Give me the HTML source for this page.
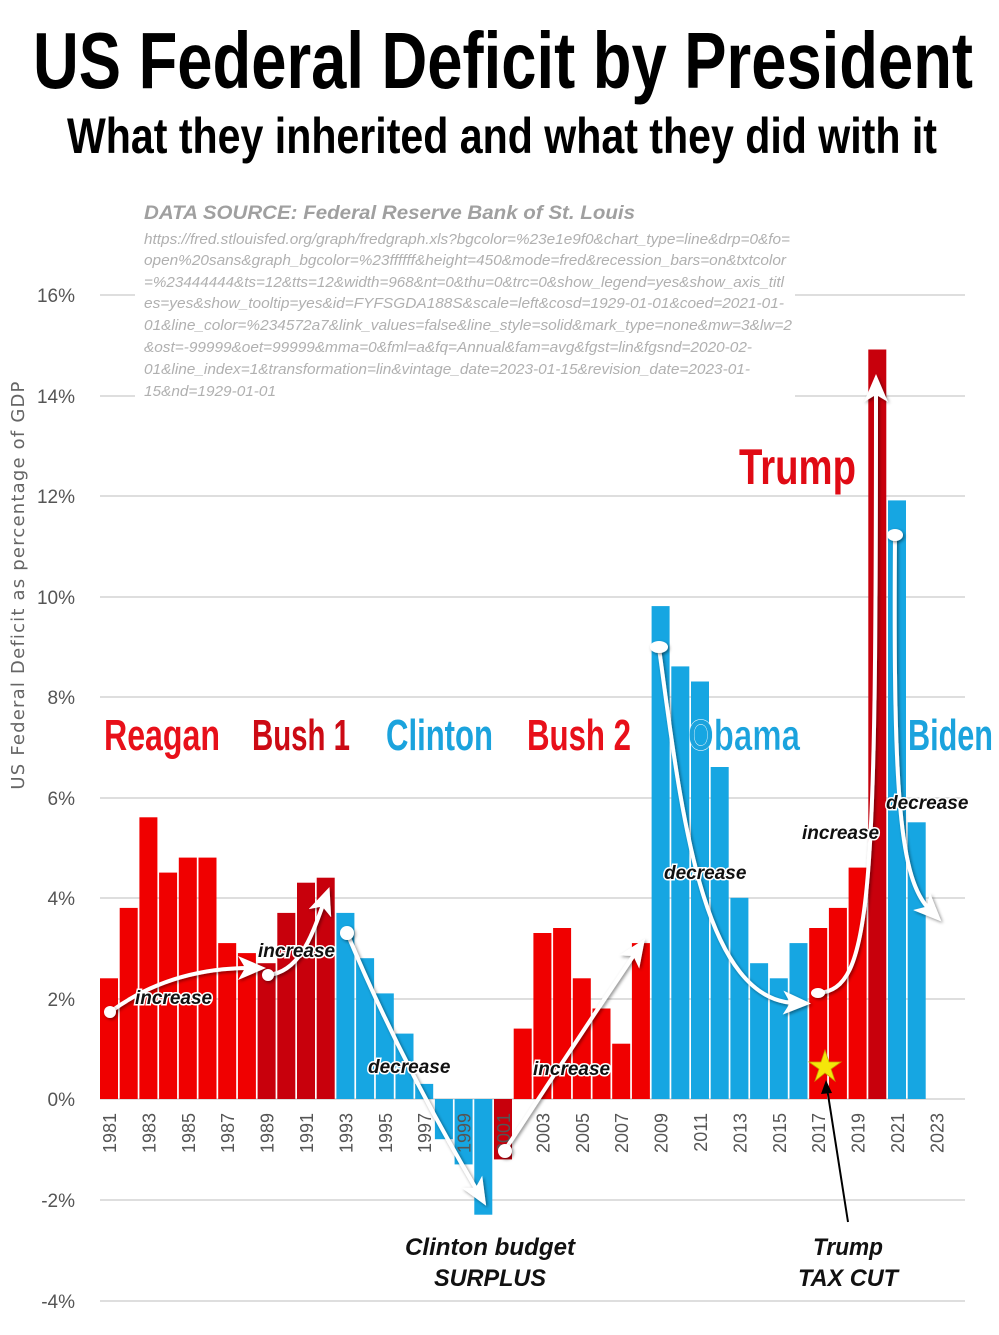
<!DOCTYPE html>
<html><head><meta charset="utf-8"><style>
html,body{margin:0;padding:0;background:#fff;}
svg{display:block;}
</style></head><body>
<svg width="999" height="1335" viewBox="0 0 999 1335" xmlns="http://www.w3.org/2000/svg">
<defs>
<filter id="sh" x="-20%" y="-20%" width="140%" height="140%"><feDropShadow dx="1.5" dy="1.5" stdDeviation="1.5" flood-color="#000" flood-opacity="0.45"/></filter>
<marker id="ah" markerWidth="7" markerHeight="6" refX="3" refY="3" orient="auto" markerUnits="strokeWidth"><path d="M0,0 L7,3 L0,6 L1.8,3 z" fill="#fff"/></marker>
</defs>
<rect width="999" height="1335" fill="#fff"/>
<g font-family="'Liberation Sans Narrow','Liberation Sans',sans-serif" font-weight="bold" fill="#000">
<text x="33" y="88" font-size="80" textLength="940" lengthAdjust="spacingAndGlyphs">US Federal Deficit by President</text>
<text x="67" y="153" font-size="50" textLength="870" lengthAdjust="spacingAndGlyphs">What they inherited and what they did with it</text>
</g>
<!-- gridlines -->
<g stroke="#d4d4d4" stroke-width="1.5">
<line x1="100" x2="965" y1="295" y2="295"/><line x1="100" x2="965" y1="396" y2="396"/>
<line x1="100" x2="965" y1="496" y2="496"/><line x1="100" x2="965" y1="597" y2="597"/>
<line x1="100" x2="965" y1="697" y2="697"/><line x1="100" x2="965" y1="798" y2="798"/>
<line x1="100" x2="965" y1="898" y2="898"/><line x1="100" x2="965" y1="999" y2="999"/>
<line x1="100" x2="965" y1="1099" y2="1099"/><line x1="100" x2="965" y1="1200" y2="1200"/>
<line x1="100" x2="965" y1="1301" y2="1301"/>
</g>
<rect x="135" y="198" width="660" height="212" fill="#fff"/>
<g font-family="'Liberation Sans',sans-serif" fill="#aaa" font-style="italic">
<text x="144" y="219" font-size="19" font-weight="bold" fill="#a0a0a0" textLength="491" lengthAdjust="spacingAndGlyphs">DATA SOURCE: Federal Reserve Bank of St. Louis</text>
<g font-size="15" fill="#b0b0b0">
<text x="144" y="244" textLength="646" lengthAdjust="spacingAndGlyphs">https://fred.stlouisfed.org/graph/fredgraph.xls?bgcolor=%23e1e9f0&amp;chart_type=line&amp;drp=0&amp;fo=</text>
<text x="144" y="265" textLength="642" lengthAdjust="spacingAndGlyphs">open%20sans&amp;graph_bgcolor=%23ffffff&amp;height=450&amp;mode=fred&amp;recession_bars=on&amp;txtcolor</text>
<text x="144" y="287" textLength="640" lengthAdjust="spacingAndGlyphs">=%23444444&amp;ts=12&amp;tts=12&amp;width=968&amp;nt=0&amp;thu=0&amp;trc=0&amp;show_legend=yes&amp;show_axis_titl</text>
<text x="144" y="308" textLength="640" lengthAdjust="spacingAndGlyphs">es=yes&amp;show_tooltip=yes&amp;id=FYFSGDA188S&amp;scale=left&amp;cosd=1929-01-01&amp;coed=2021-01-</text>
<text x="144" y="330" textLength="648" lengthAdjust="spacingAndGlyphs">01&amp;line_color=%234572a7&amp;link_values=false&amp;line_style=solid&amp;mark_type=none&amp;mw=3&amp;lw=2</text>
<text x="144" y="352" textLength="608" lengthAdjust="spacingAndGlyphs">&amp;ost=-99999&amp;oet=99999&amp;mma=0&amp;fml=a&amp;fq=Annual&amp;fam=avg&amp;fgst=lin&amp;fgsnd=2020-02-</text>
<text x="144" y="374" textLength="606" lengthAdjust="spacingAndGlyphs">01&amp;line_index=1&amp;transformation=lin&amp;vintage_date=2023-01-15&amp;revision_date=2023-01-</text>
<text x="144" y="396" textLength="132" lengthAdjust="spacingAndGlyphs">15&amp;nd=1929-01-01</text>
</g></g>
<!-- y labels -->
<g font-family="'Liberation Sans',sans-serif" font-size="19" fill="#555" text-anchor="end">
<text x="75" y="302">16%</text><text x="75" y="403">14%</text><text x="75" y="503">12%</text>
<text x="75" y="604">10%</text><text x="75" y="704">8%</text><text x="75" y="805">6%</text>
<text x="75" y="905">4%</text><text x="75" y="1006">2%</text><text x="75" y="1106">0%</text>
<text x="75" y="1207">-2%</text><text x="75" y="1308">-4%</text>
</g>
<text transform="translate(24,585) rotate(-90)" text-anchor="middle" font-family="'DejaVu Sans',sans-serif" font-size="18" fill="#666" letter-spacing="1.2">US Federal Deficit as percentage of GDP</text>
<!-- bars -->
<g>
<g fill="#f00000">
<rect x="100" y="978.3" width="18" height="120.7"/>
<rect x="119.7" y="907.9" width="18" height="191.1"/>
<rect x="139.4" y="817.3" width="18" height="281.7"/>
<rect x="159.1" y="872.6" width="18" height="226.4"/>
<rect x="178.8" y="857.6" width="18" height="241.4"/>
<rect x="198.5" y="857.6" width="18" height="241.4"/>
<rect x="218.2" y="943.1" width="18" height="155.9"/>
<rect x="237.9" y="953.1" width="18" height="145.9"/>
<rect x="513.7" y="1028.6" width="18" height="70.4"/>
<rect x="533.4" y="933" width="18" height="166"/>
<rect x="553.1" y="928" width="18" height="171"/>
<rect x="572.8" y="978.3" width="18" height="120.7"/>
<rect x="592.5" y="1008.5" width="18" height="90.5"/>
<rect x="612.2" y="1043.7" width="18" height="55.3"/>
<rect x="631.9" y="943.1" width="18" height="155.9"/>
<rect x="809.2" y="928" width="18" height="171"/>
<rect x="828.9" y="907.9" width="18" height="191.1"/>
<rect x="848.6" y="867.6" width="18" height="231.4"/>
</g>
<g fill="#c8000c">
<rect x="257.6" y="963.2" width="18" height="135.8"/>
<rect x="277.3" y="912.9" width="18" height="186.1"/>
<rect x="297" y="882.7" width="18" height="216.3"/>
<rect x="316.7" y="877.7" width="18" height="221.3"/>
<rect x="494" y="1099" width="18" height="60.4"/>
<rect x="868.3" y="349.5" width="18" height="749.5"/>
</g>
<g fill="#16a6e2">
<rect x="336.4" y="912.9" width="18" height="186.1"/>
<rect x="356.1" y="958.2" width="18" height="140.8"/>
<rect x="375.8" y="993.4" width="18" height="105.6"/>
<rect x="395.5" y="1033.6" width="18" height="65.4"/>
<rect x="415.2" y="1083.9" width="18" height="15.1"/>
<rect x="434.9" y="1099" width="18" height="40.2"/>
<rect x="454.6" y="1099" width="18" height="65.4"/>
<rect x="474.3" y="1099" width="18" height="115.7"/>
<rect x="651.6" y="606.1" width="18" height="492.9"/>
<rect x="671.3" y="666.4" width="18" height="432.6"/>
<rect x="691" y="681.5" width="18" height="417.5"/>
<rect x="710.7" y="767" width="18" height="332"/>
<rect x="730.4" y="897.8" width="18" height="201.2"/>
<rect x="750.1" y="963.2" width="18" height="135.8"/>
<rect x="769.8" y="978.3" width="18" height="120.7"/>
<rect x="789.5" y="943.1" width="18" height="155.9"/>
<rect x="888" y="500.4" width="18" height="598.6"/>
<rect x="907.7" y="822.3" width="18" height="276.7"/>
</g>
</g>
<!-- x labels -->
<g font-family="'Liberation Sans',sans-serif" font-size="18" fill="#555" text-anchor="end">
<text transform="translate(116,1113) rotate(-90)">1981</text>
<text transform="translate(155.4,1113) rotate(-90)">1983</text>
<text transform="translate(194.8,1113) rotate(-90)">1985</text>
<text transform="translate(234.2,1113) rotate(-90)">1987</text>
<text transform="translate(273.6,1113) rotate(-90)">1989</text>
<text transform="translate(313,1113) rotate(-90)">1991</text>
<text transform="translate(352.4,1113) rotate(-90)">1993</text>
<text transform="translate(391.8,1113) rotate(-90)">1995</text>
<text transform="translate(431.2,1113) rotate(-90)">1997</text>
<text transform="translate(470.6,1113) rotate(-90)">1999</text>
<text transform="translate(510,1113) rotate(-90)">2001</text>
<text transform="translate(549.4,1113) rotate(-90)">2003</text>
<text transform="translate(588.8,1113) rotate(-90)">2005</text>
<text transform="translate(628.2,1113) rotate(-90)">2007</text>
<text transform="translate(667.6,1113) rotate(-90)">2009</text>
<text transform="translate(707,1113) rotate(-90)">2011</text>
<text transform="translate(746.4,1113) rotate(-90)">2013</text>
<text transform="translate(785.8,1113) rotate(-90)">2015</text>
<text transform="translate(825.2,1113) rotate(-90)">2017</text>
<text transform="translate(864.6,1113) rotate(-90)">2019</text>
<text transform="translate(904,1113) rotate(-90)">2021</text>
<text transform="translate(943.4,1113) rotate(-90)">2023</text>
</g>
<!-- president labels -->
<g font-family="'Liberation Sans Narrow','Liberation Sans',sans-serif" font-weight="bold" font-size="44">
<text x="104" y="750" fill="#e8101a" textLength="116" lengthAdjust="spacingAndGlyphs">Reagan</text>
<text x="252" y="750" fill="#cc0a14" textLength="98" lengthAdjust="spacingAndGlyphs">Bush 1</text>
<text x="386" y="750" fill="#1ba3dd" textLength="107" lengthAdjust="spacingAndGlyphs">Clinton</text>
<text x="527" y="750" fill="#e8101a" textLength="104" lengthAdjust="spacingAndGlyphs">Bush 2</text>
<text x="688" y="750" fill="#1ba3dd" stroke="#fff" stroke-width="0.5" textLength="112" lengthAdjust="spacingAndGlyphs">Obama</text>
<text x="908" y="750" fill="#1ba3dd" textLength="85" lengthAdjust="spacingAndGlyphs">Biden</text>
<text x="739" y="484" fill="#e00a14" font-size="50" textLength="117" lengthAdjust="spacingAndGlyphs">Trump</text>
</g>
<!-- arrows -->
<g fill="none" stroke="#fff" stroke-width="4" filter="url(#sh)" marker-end="url(#ah)" stroke-linecap="round">
<path d="M110,1012 Q170,968 250,968"/>
<path d="M268,975 C300,972 312,935 324,902"/>
<path d="M347,933 Q400,1060 478,1192"/>
<path d="M505,1150 Q570,1050 636,952"/>
<path d="M659,648 C680,800 700,1000 795,1003"/>
<path d="M818,993 C872,990 876,900 876,390"/>
<path d="M895,535 C893,800 900,880 930,910"/>
</g>
<g fill="#fff" filter="url(#sh)">
<circle cx="110" cy="1012" r="6"/><circle cx="268" cy="975" r="6"/><circle cx="347" cy="933" r="7"/>
<circle cx="505" cy="1151" r="7"/><ellipse cx="659" cy="647" rx="9" ry="6"/><ellipse cx="818" cy="993" rx="7" ry="5"/><ellipse cx="895" cy="535" rx="8" ry="6"/>
</g>
<!-- annotations -->
<g font-family="'Liberation Sans',sans-serif" font-weight="bold" font-style="italic" font-size="19" fill="#111" stroke="#fff" stroke-width="3" paint-order="stroke">
<text x="135" y="1004">increase</text>
<text x="258" y="957">increase</text>
<text x="533" y="1075">increase</text>
<text x="368" y="1073">decrease</text>
<text x="664" y="879">decrease</text>
<text x="886" y="809">decrease</text>
<text x="802" y="839">increase</text>
</g>
<!-- star and arrow -->
<polygon points="825,1050 829,1062 841,1062 831,1069 835,1081 825,1073 815,1081 819,1069 809,1062 821,1062" fill="#f5e60a" stroke="#c8a000" stroke-width="0.8"/>
<line x1="848" y1="1222" x2="827" y2="1088" stroke="#000" stroke-width="2"/>
<polygon points="826,1080 821,1094 832,1093" fill="#000"/>
<g font-family="'Liberation Sans',sans-serif" font-weight="bold" font-style="italic" font-size="24" fill="#111" text-anchor="middle">
<text x="490" y="1255" textLength="170" lengthAdjust="spacingAndGlyphs">Clinton budget</text>
<text x="490" y="1286" textLength="112" lengthAdjust="spacingAndGlyphs">SURPLUS</text>
<text x="848" y="1255" textLength="70" lengthAdjust="spacingAndGlyphs">Trump</text>
<text x="848" y="1286" textLength="100" lengthAdjust="spacingAndGlyphs">TAX CUT</text>
</g>
</svg>
</body></html>
